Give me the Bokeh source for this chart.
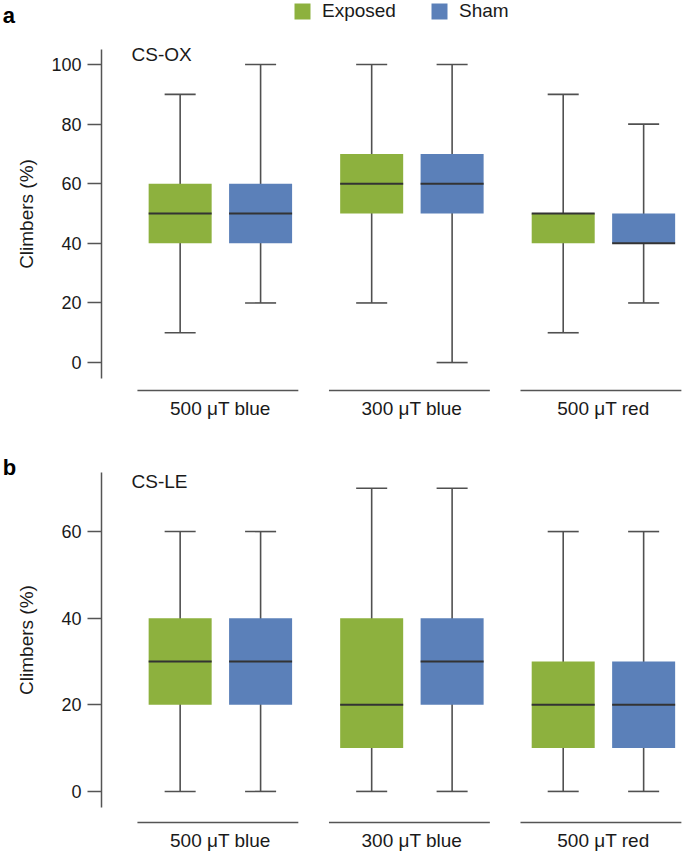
import numpy as np
from bokeh.plotting import figure
from bokeh.models import ColumnDataSource, Range1d, FixedTicker, Legend, LegendItem
from bokeh.layouts import column
from bokeh.transform import dodge
from bokeh.core.properties import value
from bokeh.embed import file_html
from bokeh.resources import INLINE

groups = ["500 μT blue", "300 μT blue", "500 μT red"]
series = ["Exposed", "Sham"]
colors = ["#8db13e", "#5b80b9"]

# panel a, CS-OX
a_exp_low = [10, 20, 10]
a_exp_q1 = [40, 50, 40]
a_exp_med = [50, 60, 50]
a_exp_q3 = [60, 70, 50]
a_exp_high = [90, 100, 90]
a_sham_low = [20, 0, 20]
a_sham_q1 = [40, 50, 40]
a_sham_med = [50, 60, 40]
a_sham_q3 = [60, 70, 50]
a_sham_high = [100, 100, 80]
a_ticks = [0, 20, 40, 60, 80, 100]

# panel b, CS-LE
b_exp_low = [0, 0, 0]
b_exp_q1 = [20, 10, 10]
b_exp_med = [30, 20, 20]
b_exp_q3 = [40, 40, 30]
b_exp_high = [60, 70, 60]
b_sham_low = [0, 0, 0]
b_sham_q1 = [20, 20, 10]
b_sham_med = [30, 30, 20]
b_sham_q3 = [40, 40, 30]
b_sham_high = [60, 70, 60]
b_ticks = [0, 20, 40, 60]

FONT = "Liberation Sans"
AXIS = "#555555"
WHISK = "#505050"
TXT = "#1a1a1a"
BOXW = 0.329
CAPW = 0.162
OFFS = [-0.21, 0.21]
X0, X1, YAX = -0.148, 3.439, 0.379


def panel(height, ylo, yhi, bounds, ticks, line_y, stats, tag, strain,
          tag_y, strain_y, label_standoff):
    pos = np.arange(1, len(groups) + 1)
    p = figure(width=687, height=height, x_range=Range1d(X0, X1),
               y_range=Range1d(ylo, yhi), output_backend="svg",
               toolbar_location=None, min_border=0)
    p.xgrid.visible = False
    p.ygrid.visible = False
    p.outline_line_color = None

    # y axis pinned inside the frame so that nothing takes side space
    yax = p.yaxis[0]
    yax.fixed_location = YAX
    yax.ticker = FixedTicker(ticks=ticks)
    yax.bounds = bounds
    yax.axis_line_color = AXIS
    yax.axis_line_width = 1.5
    yax.major_tick_line_color = AXIS
    yax.major_tick_line_width = 1.5
    yax.major_tick_out = 14
    yax.major_tick_in = 0
    yax.minor_tick_line_color = None
    yax.major_label_standoff = 6
    yax.major_label_text_font = FONT
    yax.major_label_text_font_size = "18px"
    yax.major_label_text_color = TXT
    yax.axis_label = "Climbers (%)"
    yax.axis_label_text_font = FONT
    yax.axis_label_text_font_style = "normal"
    yax.axis_label_text_font_size = "19px"
    yax.axis_label_text_color = TXT
    yax.axis_label_standoff = label_standoff

    # group labels come from the x axis, pinned at the bracket lines
    xax = p.xaxis[0]
    xax.fixed_location = line_y
    xax.ticker = FixedTicker(ticks=list(pos))
    xax.major_label_overrides = {int(k): g for k, g in zip(pos, groups)}
    xax.axis_line_color = None
    xax.major_tick_line_color = None
    xax.minor_tick_line_color = None
    xax.major_label_standoff = 1
    xax.major_label_text_font = FONT
    xax.major_label_text_font_size = "19px"
    xax.major_label_text_color = TXT

    rends = []
    for (low, q1, med, q3, high), off, col in zip(stats, OFFS, colors):
        src = ColumnDataSource(dict(x=pos, low=low, q1=q1, med=med, q3=q3, high=high))
        p.segment(x0=dodge("x", off), y0="low", x1=dodge("x", off), y1="high",
                  source=src, line_color=WHISK, line_width=1.6)
        r = p.vbar(x=dodge("x", off), width=BOXW, bottom="q1", top="q3",
                   source=src, fill_color=col, line_color=None)
        rends.append(r)
        p.segment(x0=dodge("x", off - BOXW / 2), y0="med", x1=dodge("x", off + BOXW / 2),
                  y1="med", source=src, line_color="#333333", line_width=2)
        for k in ["low", "high"]:
            p.segment(x0=dodge("x", off - CAPW / 2), y0=k, x1=dodge("x", off + CAPW / 2),
                      y1=k, source=src, line_color=WHISK, line_width=1.6)

    # group brackets under each pair
    p.segment(x0=pos - 0.433, x1=pos + 0.407, y0=[line_y] * len(pos), y1=[line_y] * len(pos),
              line_color=AXIS, line_width=1.5)

    p.text(x=[X0 + 0.012], y=[tag_y], text=[tag], text_font=value(FONT),
           text_font_size="22px", text_font_style="bold", text_baseline="middle",
           text_color="#000000")
    p.text(x=[0.536], y=[strain_y], text=[strain], text_font=value(FONT),
           text_font_size="19px", text_baseline="middle", text_color=TXT)
    return p, rends


pa, ra = panel(444, -27.5, 121.5, (-5.4, 105), a_ticks, -9.4,
               [(a_exp_low, a_exp_q1, a_exp_med, a_exp_q3, a_exp_high),
                (a_sham_low, a_sham_q1, a_sham_med, a_sham_q3, a_sham_high)],
               "a", "CS-OX", 116.6, 103.4, 11)

legend = Legend(items=[LegendItem(label=s, renderers=[r]) for s, r in zip(series, ra)],
                orientation="horizontal", location=(292, 422), glyph_width=20, glyph_height=20,
                label_standoff=10, spacing=33, padding=0, margin=0,
                border_line_color=None, background_fill_alpha=0,
                label_text_font=FONT, label_text_font_size="19px", label_text_color=TXT)
pa.add_layout(legend)

pb, rb = panel(408, -14.1, 80.1, (-3.7, 73.7), b_ticks, -7.2,
               [(b_exp_low, b_exp_q1, b_exp_med, b_exp_q3, b_exp_high),
                (b_sham_low, b_sham_q1, b_sham_med, b_sham_q3, b_sham_high)],
               "b", "CS-LE", 74.8, 71.6, 21)

layout = column(pa, pb)
open("out.html", "w").write(file_html(layout, INLINE))
